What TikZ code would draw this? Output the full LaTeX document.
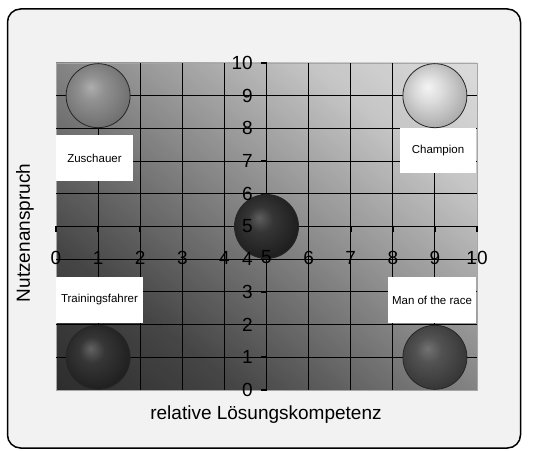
\documentclass[tikz,border=0pt]{standalone}
\usepackage{fontspec}
\setmainfont{Liberation Sans}
\definecolor{framebg}{HTML}{F2F2F2}
\definecolor{zHi}{HTML}{ADADAD}\definecolor{zMid}{HTML}{909090}\definecolor{zEdge}{HTML}{6A6A6A}
\definecolor{cHi}{HTML}{F4F4F4}\definecolor{cMid}{HTML}{DDDDDD}\definecolor{cEdge}{HTML}{A4A4A4}
\definecolor{mHi}{HTML}{5E5E5E}\definecolor{mMid}{HTML}{353535}\definecolor{mEdge}{HTML}{1A1A1A}
\definecolor{tHi}{HTML}{626262}\definecolor{tMid}{HTML}{363636}\definecolor{tEdge}{HTML}{1C1C1C}
\definecolor{rHi}{HTML}{727272}\definecolor{rMid}{HTML}{525252}\definecolor{rEdge}{HTML}{323232}
\pgfdeclareradialshading{sphZ}{\pgfpoint{-6bp}{7bp}}{color(0bp)=(zHi); color(10bp)=(zMid); color(31bp)=(zEdge); color(50bp)=(zEdge)}
\pgfdeclareradialshading{sphC}{\pgfpoint{-6bp}{7bp}}{color(0bp)=(cHi); color(10bp)=(cMid); color(31bp)=(cEdge); color(50bp)=(cEdge)}
\pgfdeclareradialshading{sphM}{\pgfpoint{-6bp}{7bp}}{color(0bp)=(mHi); color(10bp)=(mMid); color(31bp)=(mEdge); color(50bp)=(mEdge)}
\pgfdeclareradialshading{sphT}{\pgfpoint{-6bp}{7bp}}{color(0bp)=(tHi); color(10bp)=(tMid); color(31bp)=(tEdge); color(50bp)=(tEdge)}
\pgfdeclareradialshading{sphR}{\pgfpoint{-6bp}{7bp}}{color(0bp)=(rHi); color(10bp)=(rMid); color(31bp)=(rEdge); color(50bp)=(rEdge)}
\tikzset{
  gridline/.style={black, line width=0.9pt},
  axisline/.style={black, line width=1.6pt},
  labelbox/.style={fill=white, inner sep=0pt, font=\fontsize{11.5}{13}\selectfont},
  sphere/.style={circle, minimum size=64pt, inner sep=0pt, draw=black!85, line width=0.8pt, shade},
  ticklab/.style={inner sep=0pt, font=\fontsize{19}{21}\selectfont},
  title/.style={inner sep=0pt, font=\fontsize{19}{21}\selectfont}
}
\begin{document}
\begin{tikzpicture}[x=1pt,y=1pt]
\useasboundingbox (0,0) rectangle (533,450);
\fill[white] (0,0) rectangle (533,450);
\draw[line width=1.5pt, fill=framebg, rounded corners=13pt] (7.5,2) rectangle (520.5,441);
% diagonal gradient of the plot area, built from thin strips
\begin{scope}
  \clip (56,60) rectangle (477,387);
  \begin{scope}[shift={(56,60)}, rotate=52.2]
    \foreach \i in {0,...,129} {
      \pgfmathsetmacro\s{(\i+0.5)/130}
      \pgfmathtruncatemacro\g{\s<0.22 ? 45+\s*113.6 : (\s<0.8 ? 70+(\s-0.22)*220.7 : 198+(\s-0.8)*110)}
      \fill[fill={rgb,255:red,\g;green,\g;blue,\g}] (\i*3.97,-600) rectangle ({(\i+1)*3.97+0.6},600);
    }
  \end{scope}
\end{scope}
\begin{scope}[shift={(56,60)}, x=42.1pt, y=32.7pt]
  \draw[gray!70, line width=0.8pt] (0,0) rectangle (10,10);
  \foreach \k in {1,...,9} {
    \draw[gridline] (\k,0) -- (\k,10);
    \draw[gridline] (0,\k) -- (10,\k);
  }
  % label boxes
  \node[labelbox, minimum width=77pt, minimum height=46pt] (bZ) at (0.914,7.095) {Zuschauer};
  \node[labelbox, minimum width=76pt, minimum height=45pt] (bC) at (9.074,7.324) {Champion};
  \node[labelbox, minimum width=87pt, minimum height=46pt] (bT) at (1.033,2.752) {Trainingsfahrer};
  \node[labelbox, minimum width=88pt, minimum height=46pt] (bR) at (8.931,2.752) {Man of the race};
  % axes
  \draw[axisline] (0,5) -- (10,5);
  \draw[axisline] (5,0) -- (5,10);
  \foreach \k in {0,...,10} {
    \draw[axisline] (\k,5) -- ++(0,-6pt);
    \draw[axisline] (5,\k) -- ++(-6pt,0);
  }
  % spheres
  \node[sphere, shading=sphZ] (sZ) at (1,9) {};
  \node[sphere, shading=sphC] (sC) at (9,9) {};
  \node[sphere, shading=sphM] (sM) at (5,5) {};
  \node[sphere, shading=sphT] (sT) at (1,1) {};
  \node[sphere, shading=sphR] (sR) at (9,1) {};
  % tick labels
  \foreach \k in {0,...,10} {
    \node[ticklab] (hx\k) at ([yshift=-31pt]\k,5) {\k};
    \node[ticklab, anchor=east] (vy\k) at ([xshift=-13.5pt]5,\k) {\k};
  }
\end{scope}
\node[title] (xt) at (266,35) {relative Lösungskompetenz};
\node[title, rotate=90] (yt) at (25,217) {Nutzenanspruch};
\end{tikzpicture}
\end{document}
